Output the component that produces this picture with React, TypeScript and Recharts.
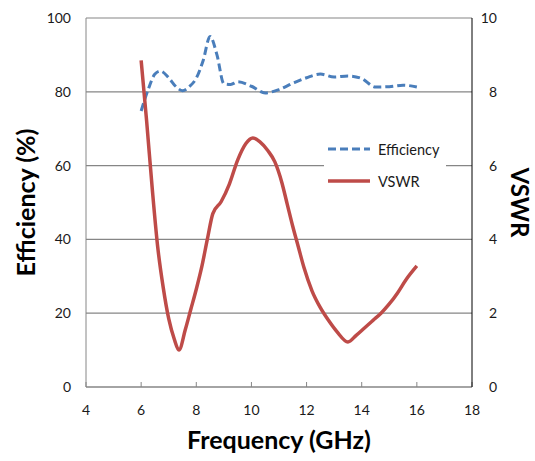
import { CartesianGrid, Label, Legend, Line, LineChart, XAxis, YAxis } from "recharts"

const BLUE = "#4a7ebb"
const RED = "#be4b48"
const GRID = "#868686"
const FONT = "Lato, 'Open Sans', sans-serif"

// frequency (GHz) / efficiency (%)
const effFreq = [6, 6.25, 6.5, 6.7, 7, 7.25, 7.5, 7.75, 8, 8.25, 8.5, 8.75, 9, 9.25, 9.5, 10, 10.5, 11, 11.5, 12, 12.5, 13, 13.5, 14, 14.5, 15, 15.5, 16]
const effVal = [74.8, 80.5, 84.8, 85.6, 83.8, 81.5, 80.3, 81.4, 83.7, 88.5, 95, 90, 82.2, 82, 82.7, 81.5, 79.7, 80.6, 82.3, 83.8, 84.8, 84, 84.3, 83.6, 81.3, 81.4, 81.8, 81.3]

// frequency (GHz) / VSWR
const vswrFreq = [6, 6.2, 6.4, 6.6, 6.8, 7, 7.2, 7.37, 7.6, 7.8, 8, 8.2, 8.4, 8.6, 8.9, 9.2, 9.5, 9.8, 10.05, 10.3, 10.6, 10.85, 11.1, 11.3, 11.5, 11.7, 11.9, 12.2, 12.5, 12.8, 13.1, 13.5, 13.8, 14.1, 14.4, 14.7, 15, 15.3, 15.6, 16]
const vswrVal = [8.85, 7.2, 5.4, 3.8, 2.7, 1.85, 1.3, 1.0, 1.55, 2.1, 2.65, 3.26, 4.0, 4.7, 5.02, 5.5, 6.15, 6.6, 6.75, 6.65, 6.4, 6.1, 5.55, 4.95, 4.35, 3.8, 3.25, 2.6, 2.15, 1.8, 1.5, 1.22, 1.4, 1.6, 1.8, 2.0, 2.25, 2.55, 2.9, 3.28]

const xTicks = [4, 6, 8, 10, 12, 14, 16, 18]
const effTicks = [0, 20, 40, 60, 80, 100]
const vswrTicks = [0, 2, 4, 6, 8, 10]

const effData = effFreq.map((f, i) => ({ f, eff: effVal[i] }))
const vswrData = vswrFreq.map((f, i) => ({ f, vswr: vswrVal[i] }))

const tickStyle = { fontSize: 14, fill: "#1a1a1a", fontFamily: FONT }
const titleStyle = { fontSize: 25, fontWeight: 700, fill: "#000", fontFamily: FONT }

function LegendBox() {
  const row = { display: "flex", alignItems: "center", height: 32 } as const
  return (
    <div style={{ background: "#fff", width: 122, height: 64, fontFamily: FONT, fontSize: 14.5, color: "#1a1a1a" }}>
      <div style={row}>
        <svg width={54} height={10}>
          <line x1={4} x2={46} y1={5} y2={5} stroke={BLUE} strokeWidth={3} strokeDasharray="8 4" />
        </svg>
        <span>Efficiency</span>
      </div>
      <div style={row}>
        <svg width={54} height={10}>
          <line x1={4} x2={46} y1={5} y2={5} stroke={RED} strokeWidth={3.5} />
        </svg>
        <span>VSWR</span>
      </div>
    </div>
  )
}

export default function App() {
  return (
    <div style={{ position: "absolute", left: 0, top: 0, background: "#fff" }}>
      <LineChart width={535} height={461} margin={{ top: 18, right: 0, bottom: 0, left: 0 }}>
        <CartesianGrid yAxisId="left" vertical={false} stroke={GRID} strokeWidth={1.2} />
        <XAxis
          dataKey="f"
          type="number"
          domain={[4, 18]}
          ticks={xTicks}
          height={74}
          stroke={GRID}
          tickSize={-5}
          tickMargin={23}
          tick={tickStyle}
          allowDuplicatedCategory={false}
        >
          <Label value="Frequency (GHz)" position="center" dy={16} style={titleStyle} />
        </XAxis>
        <YAxis
          yAxisId="left"
          domain={[0, 100]}
          ticks={effTicks}
          width={86}
          stroke={GRID}
          tickLine={false}
          tickSize={0}
          tickMargin={15}
          tick={tickStyle}
        >
          <Label value="Efficiency (%)" angle={-90} position="center" dx={-17} style={titleStyle} />
        </YAxis>
        <YAxis
          yAxisId="right"
          orientation="right"
          domain={[0, 10]}
          ticks={vswrTicks}
          width={63}
          stroke="#000"
          tickLine={false}
          tickSize={0}
          tickMargin={25}
          tick={{ ...tickStyle, textAnchor: "end" }}
        >
          <Label value="VSWR" angle={90} position="center" dx={16} style={{ ...titleStyle, fontSize: 24 }} />
        </YAxis>
        <Legend
          layout="horizontal"
          verticalAlign="middle"
          align="center"
          content={() => <LegendBox />}
          wrapperStyle={{ left: 324, top: 133, width: 122, height: 64 }}
        />
        <Line
          yAxisId="left"
          data={effData}
          dataKey="eff"
          name="Efficiency"
          type="monotone"
          stroke={BLUE}
          strokeWidth={3}
          strokeDasharray="8 4"
          dot={false}
          isAnimationActive={false}
        />
        <Line
          yAxisId="right"
          data={vswrData}
          dataKey="vswr"
          name="VSWR"
          type="monotone"
          stroke={RED}
          strokeWidth={3.5}
          dot={false}
          isAnimationActive={false}
        />
      </LineChart>
    </div>
  )
}
